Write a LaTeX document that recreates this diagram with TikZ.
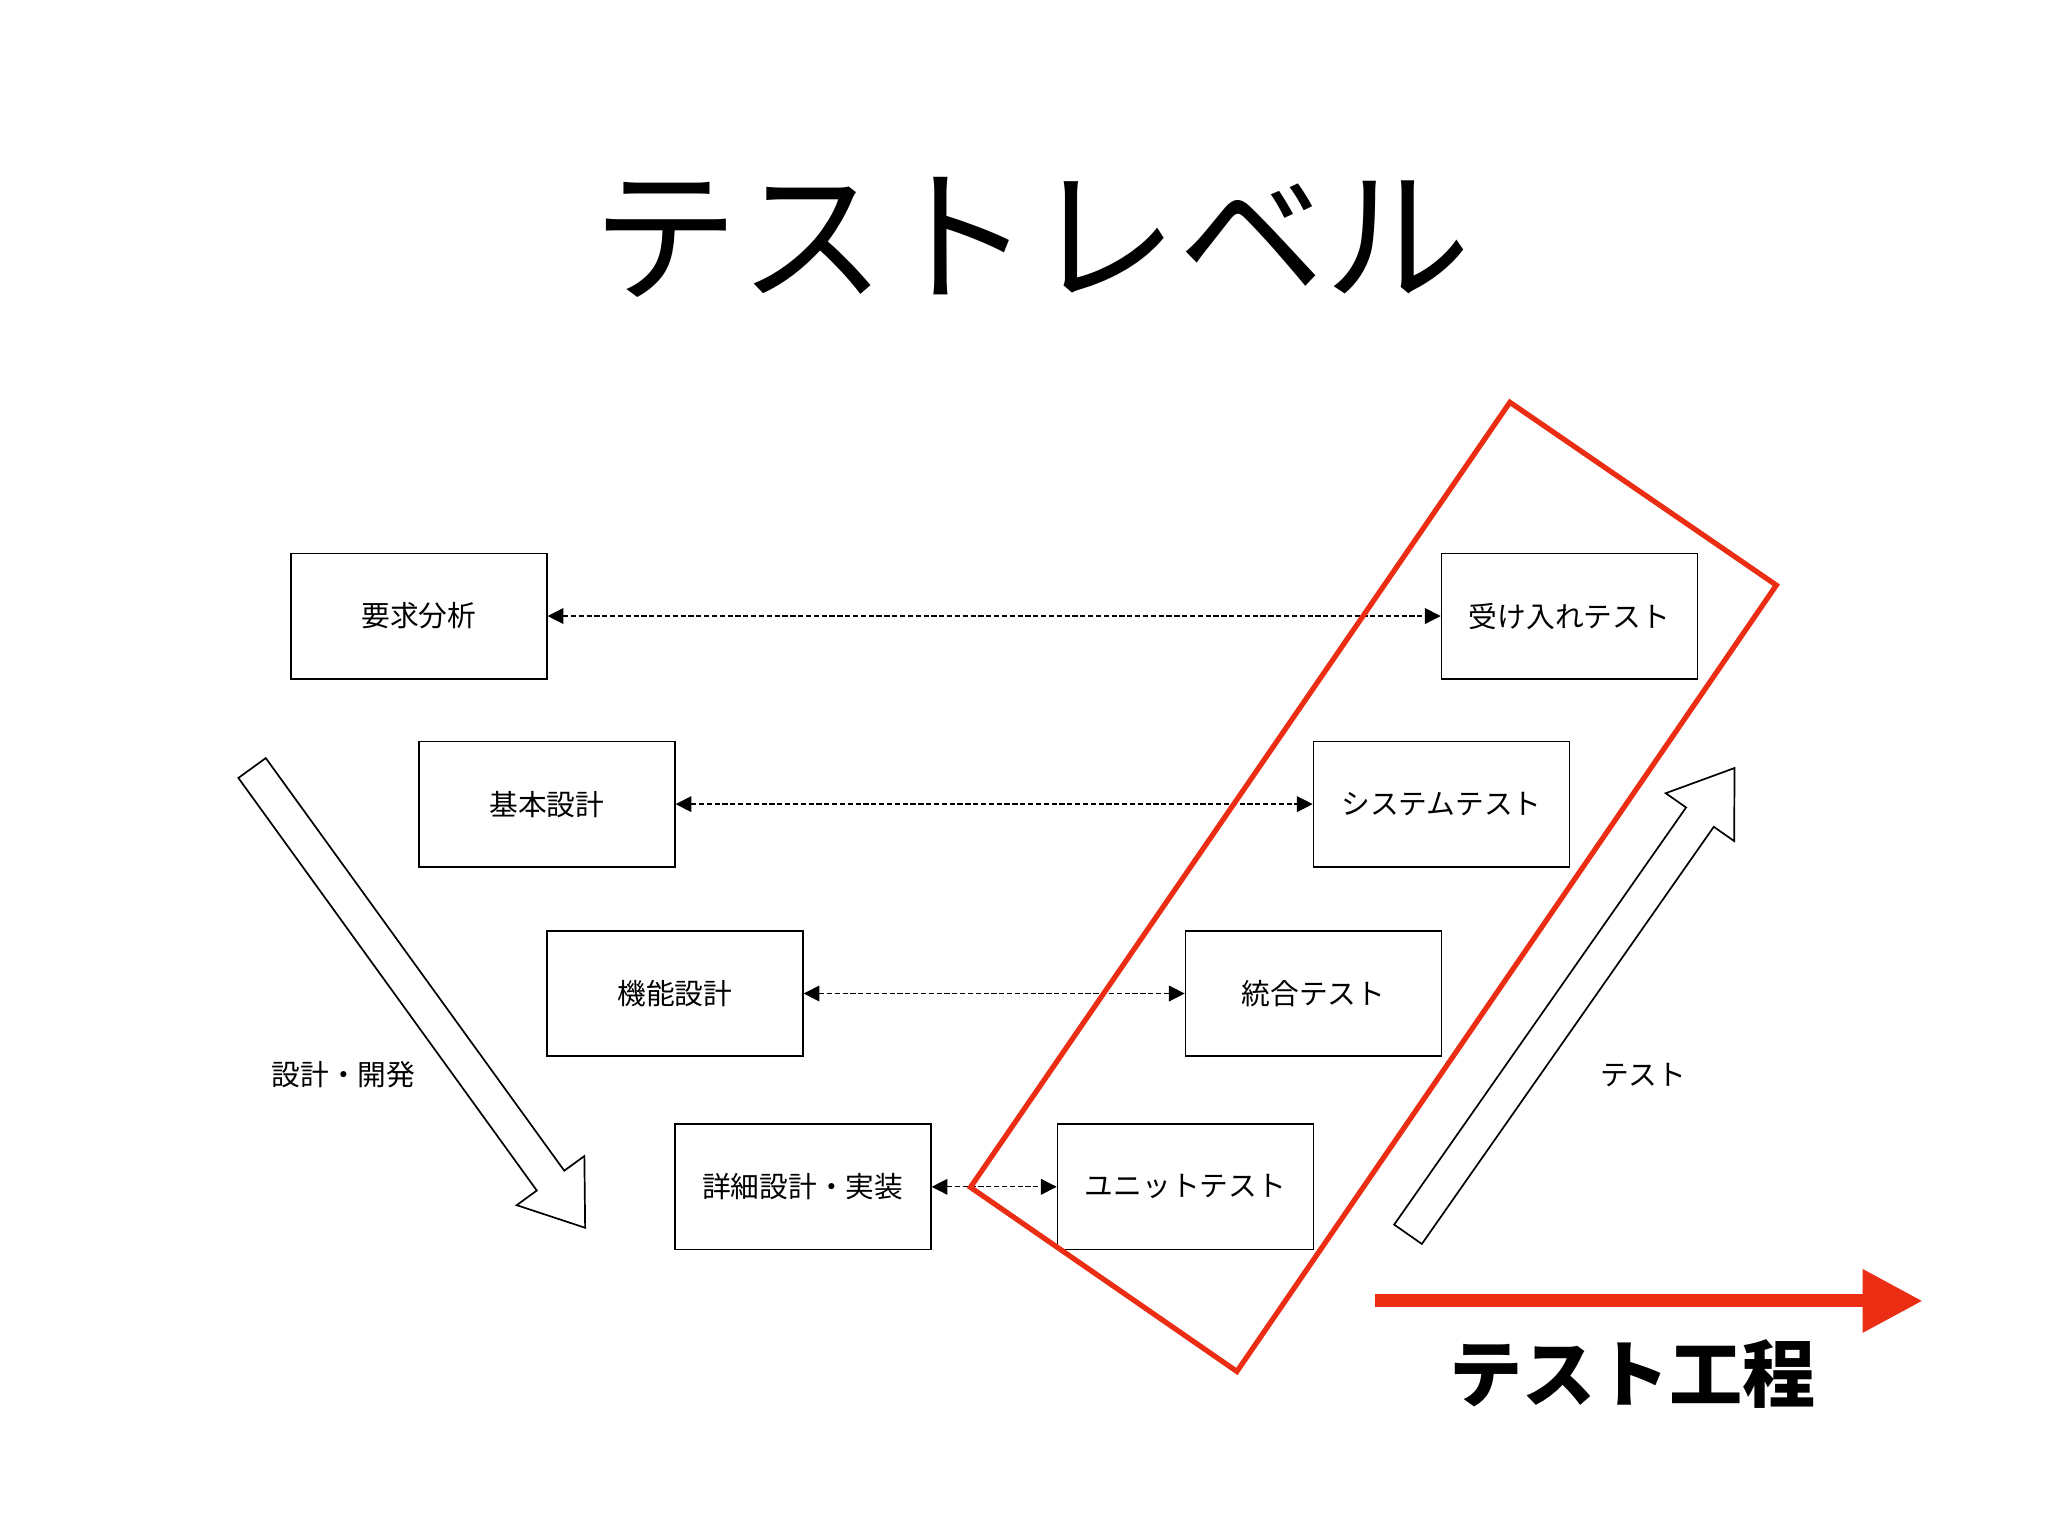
\documentclass[tikz,border=0pt]{standalone}
\usepackage{fontspec}
\setmainfont{Noto Sans CJK JP}
\newfontfamily\cjkb[FakeBold=0]{Noto Sans CJK JP}
\usetikzlibrary{arrows.meta}
\definecolor{vred}{RGB}{235,45,20}
\tikzset{
  lvbox/.style={draw, line width=1.3pt, minimum width=196pt, minimum height=96pt, inner sep=0pt, font=\fontsize{22}{24}\selectfont, anchor=north west},
  pairarrow/.style={dashed, line width=1pt, dash pattern=on 4pt off 2pt, {Triangle[length=12pt,width=12pt]}-{Triangle[length=12pt,width=12pt]}},
  hollow/.style={draw, line width=1.3pt, fill=white, line join=miter}
}
\begin{document}
\begin{tikzpicture}[x=1pt,y=-1pt]
\useasboundingbox[fill=white] (0,0) rectangle (1568,1176);
\node (title) at (790,182) {\fontsize{112}{120}\selectfont テストレベル};
\node[lvbox] (l1) at (222,423) {要求分析};
\node[lvbox] (l2) at (320,567) {基本設計};
\node[lvbox] (l3) at (418,712) {機能設計};
\node[lvbox] (l4) at (516,860) {詳細設計・実装};
\node[lvbox] (r1) at (1103,423) {受け入れテスト};
\node[lvbox] (r2) at (1005,567) {システムテスト};
\node[lvbox] (r3) at (907,712) {統合テスト};
\node[lvbox] (r4) at (809,860) {ユニットテスト};
\draw[pairarrow] (l1.east) -- (r1.west);
\draw[pairarrow] (l2.east) -- (r2.west);
\draw[pairarrow] (l3.east) -- (r3.west);
\draw[pairarrow] (l4.east) -- (r4.west);
\draw[hollow] (203.5,580.4) -- (432,896.3) -- (447.4,885.1) -- (448,940) -- (395.6,922.7) -- (411,911.5) -- (182.5,595.6) -- cycle;
\draw[hollow] (1088.6,952.4) -- (1312.1,633.0) -- (1327.7,643.9) -- (1328,588) -- (1275.3,607.3) -- (1290.9,618.2) -- (1067.4,937.6) -- cycle;
\node (dl) at (263,823) {\fontsize{22}{24}\selectfont 設計・開発};
\node (tl) at (1258,823) {\fontsize{22}{24}\selectfont テスト};
\draw[vred, line width=4pt, line join=miter] (1156,308) -- (1360,448) -- (947,1050) -- (743,909) -- cycle;
\coordinate (pa) at (1053,996);
\coordinate (pb) at (1472,996);
\draw[vred, line width=10pt, -{Triangle[length=46pt,width=46pt]}] (pa) -- (pb);
\node (tk) at (1250,1052) {\fontsize{56}{60}\selectfont\bfseries テスト工程};
\end{tikzpicture}
\end{document}
